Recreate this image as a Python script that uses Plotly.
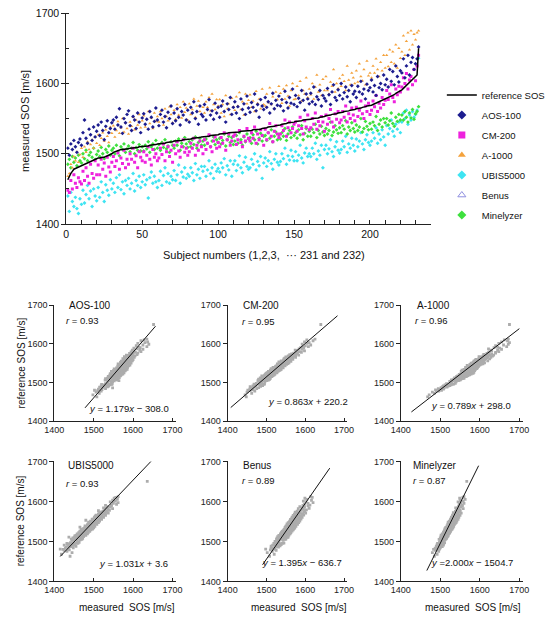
import plotly.graph_objects as go

SUBJECT = list(range(1, 233))

REFERENCE_SOS = [
    1463, 1468, 1472, 1475, 1478, 1479, 1480, 1481, 1482, 1483,
    1484, 1486, 1487, 1488, 1489, 1490, 1491, 1491, 1492, 1493,
    1494, 1494, 1495, 1495, 1495, 1496, 1496, 1497, 1498, 1500,
    1502, 1503, 1504, 1505, 1505, 1506, 1506, 1506, 1507, 1507,
    1507, 1508, 1508, 1508, 1509, 1509, 1509, 1510, 1510, 1510,
    1510, 1511, 1511, 1511, 1512, 1512, 1512, 1513, 1513, 1514,
    1514, 1514, 1515, 1515, 1515, 1516, 1516, 1516, 1517, 1517,
    1518, 1518, 1518, 1519, 1519, 1519, 1520, 1520, 1520, 1521,
    1521, 1521, 1522, 1522, 1522, 1523, 1523, 1523, 1524, 1524,
    1524, 1525, 1525, 1525, 1526, 1526, 1526, 1527, 1527, 1527,
    1528, 1528, 1528, 1529, 1529, 1529, 1530, 1530, 1530, 1530,
    1531, 1531, 1531, 1531, 1532, 1532, 1532, 1532, 1533, 1533,
    1533, 1533, 1534, 1534, 1534, 1535, 1535, 1535, 1536, 1536,
    1537, 1537, 1538, 1538, 1538, 1539, 1539, 1540, 1540, 1541,
    1541, 1542, 1542, 1543, 1543, 1544, 1544, 1545, 1545, 1545,
    1546, 1546, 1546, 1547, 1547, 1548, 1548, 1548, 1549, 1549,
    1549, 1550, 1550, 1551, 1551, 1551, 1552, 1552, 1553, 1553,
    1554, 1554, 1555, 1555, 1556, 1556, 1557, 1557, 1558, 1558,
    1559, 1559, 1560, 1560, 1561, 1561, 1562, 1562, 1563, 1563,
    1564, 1564, 1565, 1565, 1566, 1566, 1567, 1568, 1568, 1569,
    1569, 1570, 1571, 1571, 1572, 1573, 1574, 1575, 1576, 1577,
    1578, 1579, 1580, 1582, 1583, 1584, 1586, 1587, 1589, 1590,
    1591, 1593, 1595, 1597, 1599, 1601, 1603, 1605, 1608, 1610,
    1612, 1650,
]

AOS_100 = [
    1508, 1498, 1514, 1506, 1519, 1510, 1502, 1516, 1521, 1512,
    1530, 1548, 1522, 1515, 1535, 1527, 1519, 1538, 1524, 1532,
    1541, 1526, 1545, 1533, 1520, 1539, 1547, 1530, 1536, 1544,
    1548, 1535, 1552, 1541, 1564, 1538, 1529, 1550, 1544, 1556,
    1561, 1540, 1533, 1553, 1548, 1536, 1558, 1545, 1530, 1551,
    1557, 1542, 1549, 1535, 1560, 1552, 1538, 1546, 1565, 1548,
    1540, 1556, 1562, 1545, 1553, 1537, 1559, 1550, 1568, 1543,
    1558, 1547, 1564, 1552, 1541, 1560, 1555, 1570, 1548, 1562,
    1545, 1566, 1558, 1574, 1550, 1560, 1542, 1568, 1556, 1553,
    1570, 1548, 1563, 1577, 1555, 1561, 1549, 1572, 1558, 1566,
    1552, 1568, 1575, 1560, 1545, 1571, 1563, 1580, 1556, 1566,
    1574, 1558, 1567, 1550, 1578, 1563, 1571, 1556, 1582, 1565,
    1559, 1573, 1566, 1585, 1561, 1570, 1552, 1577, 1568, 1563,
    1580, 1566, 1574, 1558, 1571, 1586, 1564, 1576, 1569, 1582,
    1568, 1577, 1561, 1589, 1573, 1565, 1580, 1572, 1592, 1570,
    1583, 1567, 1579, 1573, 1590, 1576, 1562, 1585, 1578, 1571,
    1586, 1574, 1595, 1570, 1581, 1577, 1590, 1568, 1583, 1579,
    1575, 1593, 1584, 1570, 1588, 1598, 1580, 1576, 1591, 1583,
    1600, 1578, 1587, 1595, 1581, 1590, 1574, 1597, 1585, 1589,
    1580, 1596, 1588, 1603, 1585, 1592, 1578, 1599, 1590, 1594,
    1605, 1588, 1597, 1583, 1610, 1594, 1600, 1591, 1612, 1598,
    1606, 1595, 1620, 1603, 1617, 1598, 1625, 1610, 1602, 1618,
    1615, 1635, 1608, 1625, 1640, 1612, 1630, 1637, 1620, 1628,
    1635, 1652,
]

CM_200 = [
    1448, 1445, 1462, 1450, 1470, 1458, 1452, 1466, 1460, 1457,
    1475, 1462, 1480, 1468, 1458, 1485, 1472, 1465, 1490, 1470,
    1484, 1470, 1492, 1478, 1487, 1468, 1495, 1481, 1474, 1488,
    1496, 1482, 1490, 1501, 1478, 1494, 1486, 1505, 1480, 1492,
    1485, 1500, 1492, 1508, 1488, 1497, 1480, 1503, 1495, 1490,
    1503, 1488, 1498, 1510, 1492, 1484, 1506, 1495, 1500, 1490,
    1494, 1508, 1499, 1514, 1490, 1503, 1510, 1496, 1505, 1488,
    1512, 1500, 1517, 1504, 1495, 1510, 1520, 1502, 1508, 1498,
    1503, 1515, 1508, 1522, 1498, 1512, 1505, 1518, 1510, 1500,
    1520, 1506, 1515, 1527, 1510, 1503, 1518, 1524, 1508, 1516,
    1510, 1523, 1515, 1530, 1505, 1520, 1528, 1512, 1518, 1525,
    1527, 1513, 1520, 1533, 1516, 1510, 1525, 1518, 1536, 1522,
    1518, 1530, 1522, 1538, 1515, 1528, 1520, 1534, 1526, 1512,
    1535, 1520, 1530, 1543, 1525, 1517, 1532, 1540, 1528, 1523,
    1528, 1540, 1533, 1548, 1525, 1537, 1545, 1530, 1536, 1542,
    1545, 1532, 1540, 1552, 1536, 1528, 1547, 1538, 1555, 1534,
    1537, 1550, 1542, 1558, 1535, 1546, 1540, 1553, 1545, 1532,
    1555, 1542, 1550, 1563, 1545, 1538, 1557, 1549, 1560, 1544,
    1548, 1560, 1552, 1568, 1545, 1557, 1550, 1565, 1555, 1547,
    1566, 1553, 1562, 1575, 1557, 1550, 1568, 1560, 1572, 1556,
    1562, 1575, 1567, 1583, 1560, 1572, 1565, 1580, 1570, 1576,
    1590, 1577, 1585, 1598, 1580, 1574, 1592, 1584, 1596, 1588,
    1595, 1608, 1600, 1614, 1592, 1605, 1610, 1598, 1620, 1604,
    1625, 1640,
]

A_1000 = [
    1468, 1472, 1485, 1480, 1496, 1490, 1503, 1488, 1499, 1508,
    1495, 1510, 1502, 1517, 1506, 1513, 1520, 1508, 1524, 1515,
    1527, 1512, 1522, 1530, 1518, 1534, 1525, 1516, 1538, 1529,
    1540, 1524, 1533, 1546, 1529, 1537, 1550, 1531, 1544, 1536,
    1528, 1545, 1539, 1552, 1534, 1548, 1541, 1556, 1537, 1547,
    1554, 1538, 1549, 1560, 1543, 1551, 1536, 1558, 1546, 1553,
    1545, 1560, 1550, 1541, 1564, 1553, 1547, 1567, 1556, 1544,
    1562, 1549, 1570, 1555, 1566, 1551, 1574, 1559, 1565, 1548,
    1571, 1556, 1563, 1578, 1552, 1568, 1575, 1560, 1583, 1566,
    1558, 1574, 1566, 1580, 1561, 1585, 1570, 1563, 1577, 1568,
    1577, 1558, 1570, 1553, 1583, 1564, 1571, 1556, 1579, 1567,
    1562, 1581, 1568, 1587, 1563, 1574, 1555, 1585, 1571, 1576,
    1584, 1566, 1575, 1560, 1589, 1572, 1578, 1564, 1592, 1570,
    1568, 1585, 1573, 1594, 1570, 1581, 1564, 1588, 1577, 1596,
    1586, 1572, 1592, 1578, 1597, 1582, 1568, 1590, 1600, 1577,
    1578, 1596, 1583, 1603, 1575, 1590, 1585, 1608, 1580, 1592,
    1584, 1600, 1578, 1595, 1612, 1588, 1598, 1583, 1606, 1590,
    1610, 1590, 1585, 1602, 1596, 1620, 1588, 1600, 1593, 1607,
    1596, 1612, 1603, 1590, 1625, 1605, 1598, 1615, 1608, 1600,
    1618, 1602, 1628, 1610, 1604, 1620, 1598, 1632, 1611, 1615,
    1608, 1625, 1615, 1635, 1620, 1610, 1630, 1618, 1640, 1622,
    1640, 1624, 1648, 1630, 1645, 1628, 1655, 1622, 1650, 1636,
    1645, 1668, 1640, 1660, 1672, 1648, 1675, 1655, 1670, 1662,
    1672, 1675,
]

UBIS5000 = [
    1440, 1418, 1445, 1432, 1425, 1438, 1422, 1415, 1436, 1428,
    1448, 1430, 1442, 1455, 1436, 1447, 1425, 1450, 1440, 1433,
    1452, 1438, 1460, 1445, 1432, 1456, 1448, 1441, 1463, 1450,
    1458, 1445, 1466, 1452, 1470, 1449, 1460, 1443, 1462, 1455,
    1465, 1450, 1458, 1472, 1447, 1462, 1455, 1468, 1452, 1460,
    1470, 1456, 1463, 1437, 1466, 1474, 1458, 1468, 1460, 1452,
    1462, 1475, 1455, 1469, 1480, 1460, 1472, 1458, 1468, 1463,
    1476, 1462, 1470, 1484, 1458, 1474, 1467, 1480, 1465, 1471,
    1468, 1480, 1473, 1462, 1486, 1470, 1478, 1465, 1482, 1475,
    1482, 1468, 1477, 1490, 1472, 1480, 1465, 1485, 1475, 1479,
    1474, 1487, 1480, 1493, 1470, 1483, 1477, 1490, 1468, 1485,
    1490, 1476, 1484, 1497, 1480, 1473, 1488, 1495, 1482, 1478,
    1480, 1492, 1485, 1500, 1477, 1489, 1483, 1496, 1465, 1487,
    1494, 1482, 1490, 1503, 1486, 1478, 1492, 1500, 1488, 1484,
    1489, 1500, 1493, 1508, 1485, 1497, 1491, 1505, 1496, 1490,
    1503, 1490, 1498, 1512, 1494, 1487, 1501, 1508, 1496, 1500,
    1496, 1508, 1500, 1515, 1492, 1504, 1498, 1512, 1480, 1506,
    1512, 1500, 1507, 1520, 1503, 1496, 1510, 1517, 1505, 1501,
    1506, 1518, 1510, 1525, 1502, 1514, 1508, 1522, 1512, 1504,
    1521, 1510, 1518, 1530, 1514, 1506, 1520, 1527, 1516, 1512,
    1518, 1530, 1522, 1537, 1515, 1528, 1520, 1534, 1524, 1512,
    1540, 1528, 1536, 1548, 1532, 1525, 1542, 1535, 1545, 1530,
    1545, 1558, 1550, 1562, 1542, 1555, 1548, 1560, 1552, 1556,
    1562, 1636,
]

BENUS = [
    1508, 1520, 1502, 1515, 1525, 1510, 1518, 1498, 1522, 1512,
    1518, 1531, 1526, 1512, 1535, 1522, 1529, 1516, 1538, 1524,
    1536, 1524, 1541, 1529, 1519, 1533, 1545, 1527, 1531, 1522,
    1529, 1543, 1535, 1548, 1526, 1539, 1532, 1550, 1537, 1530,
    1545, 1533, 1541, 1527, 1550, 1536, 1543, 1531, 1554, 1539,
    1534, 1548, 1538, 1556, 1542, 1529, 1546, 1540, 1535, 1551,
    1550, 1537, 1546, 1532, 1555, 1544, 1539, 1558, 1541, 1548,
    1540, 1553, 1547, 1561, 1536, 1549, 1544, 1557, 1551, 1538,
    1555, 1543, 1551, 1563, 1546, 1539, 1558, 1549, 1544, 1560,
    1545, 1557, 1552, 1541, 1566, 1548, 1555, 1543, 1561, 1553,
    1560, 1548, 1556, 1569, 1551, 1545, 1563, 1554, 1547, 1566,
    1550, 1562, 1557, 1546, 1571, 1553, 1560, 1549, 1567, 1556,
    1564, 1552, 1560, 1573, 1556, 1548, 1566, 1558, 1551, 1570,
    1555, 1567, 1561, 1550, 1576, 1558, 1565, 1553, 1572, 1562,
    1570, 1558, 1566, 1580, 1561, 1553, 1573, 1564, 1557, 1577,
    1561, 1573, 1568, 1556, 1583, 1564, 1571, 1559, 1579, 1567,
    1576, 1563, 1572, 1586, 1567, 1560, 1580, 1570, 1562, 1584,
    1567, 1580, 1574, 1562, 1589, 1570, 1577, 1565, 1585, 1573,
    1583, 1570, 1578, 1592, 1573, 1566, 1586, 1576, 1569, 1590,
    1574, 1588, 1581, 1569, 1596, 1577, 1584, 1572, 1593, 1580,
    1592, 1578, 1587, 1601, 1582, 1574, 1596, 1586, 1579, 1599,
    1589, 1603, 1595, 1582, 1610, 1591, 1598, 1586, 1607, 1594,
    1612, 1598, 1607, 1620, 1602, 1595, 1616, 1604, 1599, 1618,
    1614, None,
]

MINELYZER = [
    1485, 1492, 1480, 1496, 1488, 1494, 1483, 1498, 1490, 1487,
    1500, 1493, 1505, 1490, 1498, 1502, 1495, 1508, 1492, 1499,
    1504, 1496, 1509, 1500, 1493, 1506, 1502, 1511, 1498, 1505,
    1508, 1500, 1512, 1503, 1497, 1510, 1506, 1514, 1502, 1507,
    1511, 1503, 1508, 1516, 1500, 1509, 1505, 1513, 1504, 1510,
    1504, 1512, 1507, 1517, 1502, 1510, 1514, 1506, 1519, 1508,
    1513, 1505, 1516, 1509, 1520, 1507, 1511, 1502, 1517, 1512,
    1508, 1518, 1512, 1521, 1505, 1515, 1510, 1523, 1514, 1509,
    1517, 1510, 1520, 1513, 1524, 1508, 1516, 1522, 1512, 1518,
    1512, 1521, 1515, 1526, 1510, 1518, 1524, 1513, 1520, 1516,
    1522, 1514, 1519, 1528, 1511, 1520, 1525, 1516, 1523, 1513,
    1518, 1526, 1515, 1530, 1520, 1512, 1524, 1517, 1528, 1521,
    1523, 1515, 1527, 1520, 1532, 1514, 1522, 1529, 1518, 1525,
    1526, 1519, 1530, 1522, 1534, 1517, 1525, 1531, 1520, 1527,
    1521, 1530, 1525, 1536, 1519, 1528, 1533, 1523, 1538, 1526,
    1530, 1522, 1534, 1527, 1540, 1520, 1529, 1536, 1525, 1532,
    1525, 1535, 1530, 1542, 1523, 1533, 1528, 1539, 1531, 1526,
    1536, 1528, 1533, 1545, 1526, 1531, 1540, 1534, 1529, 1537,
    1530, 1540, 1535, 1547, 1528, 1538, 1533, 1544, 1536, 1531,
    1541, 1533, 1538, 1550, 1531, 1536, 1546, 1539, 1534, 1543,
    1535, 1545, 1540, 1553, 1533, 1542, 1548, 1538, 1550, 1544,
    1550, 1541, 1547, 1558, 1543, 1539, 1552, 1546, 1556, 1548,
    1555, 1548, 1560, 1552, 1545, 1558, 1551, 1563, 1549, 1557,
    1560, 1567,
]

DEVICE_NAMES = ["AOS-100", "CM-200", "A-1000", "UBIS5000", "Benus", "Minelyzer"]
DEVICE_VALUES = [AOS_100, CM_200, A_1000, UBIS5000, BENUS, MINELYZER]
R_VALUES = ["0.93", "0.95", "0.96", "0.93", "0.89", "0.87"]
SLOPES = [1.179, 0.863, 0.789, 1.031, 1.395, 2.000]
INTERCEPTS = [-308.0, 220.2, 298.0, 3.6, -636.7, -1504.7]
EQUATIONS = [
    "<i>y</i> = 1.179<i>x</i> − 308.0",
    "<i>y</i> = 0.863<i>x</i> + 220.2",
    "<i>y</i> = 0.789<i>x</i> + 298.0",
    "<i>y</i> = 1.031<i>x</i> + 3.6",
    "<i>y</i> = 1.395<i>x</i> − 636.7",
    "<i>y</i> =2.000<i>x</i> − 1504.7",
]
LINE_X_START = [1478, 1408, 1427, 1415, 1490, 1466]
LINE_X_END = [1657, 1683, 1700, 1646, 1663, 1597]
SOS_TICKS = [1400, 1500, 1600, 1700]
SUBJECT_TICKS = [0, 50, 100, 150, 200]
# devices whose points are visible in the upper panel (Benus is legend-only there)
TOP_PANEL_DEVICES = ["UBIS5000", "Minelyzer", "CM-200", "A-1000", "AOS-100"]

for arr in DEVICE_VALUES + [REFERENCE_SOS]:
    assert len(arr) == 232, len(arr)

# ---------------- styling ----------------
W, H = 550, 627
FONT = "Liberation Sans, Arial, sans-serif"
AX = "#222222"

STYLE = {
    "AOS-100":   dict(symbol="diamond", color="#1c1c8f"),
    "CM-200":    dict(symbol="square", color="#ee22dd"),
    "A-1000":    dict(symbol="triangle-up", color="#f4a23c"),
    "UBIS5000":  dict(symbol="diamond", color="#3ee4f2"),
    "Benus":     dict(symbol="triangle-up-open", color="#8f8fe0"),
    "Minelyzer": dict(symbol="diamond", color="#3ee03e"),
}
LEGEND_ORDER = ["AOS-100", "CM-200", "A-1000", "UBIS5000", "Benus", "Minelyzer"]


def px_x(p):
    return p / W


def px_y(p):
    return 1 - p / H


fig = go.Figure()

# upper panel data (legend handled by proxy entries below)
for name in TOP_PANEL_DEVICES:
    vals = DEVICE_VALUES[DEVICE_NAMES.index(name)]
    st = STYLE[name]
    fig.add_trace(go.Scatter(
        x=SUBJECT, y=vals, mode="markers", name=name, showlegend=False,
        marker=dict(symbol=st["symbol"], color=st["color"], size=3,
                    line=dict(width=0)),
        xaxis="x", yaxis="y",
    ))

fig.add_trace(go.Scatter(
    x=SUBJECT, y=REFERENCE_SOS, mode="lines", name="reference SOS",
    legendrank=1, legendgroup="g0", line=dict(color="black", width=1.5),
    xaxis="x", yaxis="y",
))

# legend entries with a larger symbol than the tiny plotted dots
for k, name in enumerate(LEGEND_ORDER):
    st = STYLE[name]
    fig.add_trace(go.Scatter(
        x=[None], y=[None], mode="markers", name=name, legendrank=k + 2,
        legendgroup=f"g{k + 1}",
        marker=dict(symbol=st["symbol"], color=st["color"], size=7,
                    line=dict(width=1 if "open" in st["symbol"] else 0, color=st["color"])),
        xaxis="x", yaxis="y",
    ))

# bottom panels
COL_DOM = [(46.7, 174.5), (229.3, 355.3), (411.7, 540.0)]
ROW_DOM = [(305.0, 423.3), (464.3, 586.7)]

layout_axes = {}
annotations = []

for i, name in enumerate(DEVICE_NAMES):
    r, c = divmod(i, 3)
    n = i + 2
    xa, ya = f"x{n}", f"y{n}"
    vals = DEVICE_VALUES[i]
    fig.add_trace(go.Scatter(
        x=vals, y=REFERENCE_SOS, mode="markers", showlegend=False,
        marker=dict(symbol="square", size=2.8, color="#acacac"),
        xaxis=xa, yaxis=ya,
    ))
    xl = [LINE_X_START[i], LINE_X_END[i]]
    yl = [SLOPES[i] * v + INTERCEPTS[i] for v in xl]
    fig.add_trace(go.Scatter(
        x=xl, y=yl, mode="lines", showlegend=False,
        line=dict(color="#111111", width=1), xaxis=xa, yaxis=ya,
    ))
    x0, x1 = COL_DOM[c]
    y0, y1 = ROW_DOM[r]
    layout_axes[f"xaxis{n}"] = dict(
        domain=[px_x(x0), px_x(x1)], anchor=ya, range=[1400, 1708],
        tickvals=SOS_TICKS, ticks="inside", ticklen=3, tickcolor=AX,
        showline=True, linecolor=AX, linewidth=1, showgrid=False, zeroline=False,
        tickfont=dict(size=9, color="#222"),
    )
    layout_axes[f"yaxis{n}"] = dict(
        domain=[px_y(y1), px_y(y0)], anchor=xa, range=[1400, 1700],
        tickvals=SOS_TICKS, ticks="outside", ticklen=4, tickcolor=AX,
        showline=True, linecolor=AX, linewidth=1, showgrid=False, zeroline=False,
        tickfont=dict(size=9, color="#222"),
    )

TITLE_POS = [(0.104, 1.0), (0.11, 1.0), (0.12, 1.0), (0.096, 0.97), (0.11, 0.97), (0.088, 0.97)]
R_POS = [(0.08, 0.87), (0.10, 0.86), (0.10, 0.87), (0.08, 0.82), (0.10, 0.845), (0.088, 0.845)]
EQ_POS = [(0.965, 0.11), (1.02, 0.17), (0.92, 0.135), (0.95, 0.15), (0.975, 0.16), (0.94, 0.16)]

for i, name in enumerate(DEVICE_NAMES):
    n = i + 2
    xr, yr = f"x{n} domain", f"y{n} domain"
    annotations.append(dict(text=name, x=TITLE_POS[i][0], y=TITLE_POS[i][1], xref=xr, yref=yr,
                            xanchor="left", yanchor="middle", showarrow=False,
                            font=dict(size=10, color="#111")))
    annotations.append(dict(text=f"<i>r</i> = {R_VALUES[i]}", x=R_POS[i][0], y=R_POS[i][1],
                            xref=xr, yref=yr, xanchor="left", yanchor="middle", showarrow=False,
                            font=dict(size=9.5, color="#111")))
    annotations.append(dict(text=EQUATIONS[i], x=EQ_POS[i][0], y=EQ_POS[i][1],
                            xref=xr, yref=yr, xanchor="right", yanchor="middle", showarrow=False,
                            font=dict(size=9.5, color="#111")))

# axis titles
annotations += [
    dict(text="measured SOS [m/s]", x=px_x(16), y=px_y(117), xref="paper", yref="paper",
         xanchor="center", yanchor="middle",
         textangle=-90, showarrow=False, font=dict(size=11, color="#111")),
    dict(text="Subject numbers (1,2,3,  ··· 231 and 232)", x=px_x(268), y=px_y(254),
         xref="paper", yref="paper", xanchor="center", yanchor="middle",
         showarrow=False, font=dict(size=11, color="#111")),
    dict(text="reference SOS [m/s]", x=px_x(12), y=px_y(364), xref="paper", yref="paper",
         xanchor="center", yanchor="middle",
         textangle=-90, showarrow=False, font=dict(size=10, color="#111")),
    dict(text="reference SOS [m/s]", x=px_x(12), y=px_y(525), xref="paper", yref="paper",
         xanchor="center", yanchor="middle",
         textangle=-90, showarrow=False, font=dict(size=10, color="#111")),
]
for cx in (123, 304, 488):
    annotations.append(dict(text="measured\u00a0\u00a0SOS [m/s]", x=px_x(cx), y=px_y(613),
                            xref="paper", yref="paper", xanchor="center", yanchor="middle",
                            showarrow=False, font=dict(size=10, color="#111")))

fig.update_layout(
    width=W, height=H,
    margin=dict(l=0, r=0, t=0, b=0),
    paper_bgcolor="white", plot_bgcolor="white",
    font=dict(family=FONT, size=10, color="#111"),
    xaxis=dict(domain=[px_x(59.3), px_x(443.3)], anchor="y", range=[0, 240],
               tickvals=SUBJECT_TICKS, ticks="inside", ticklen=4, tickcolor=AX,
               minor=dict(dtick=10, ticks="inside", ticklen=4, tickcolor=AX),
               showline=True, linecolor=AX, linewidth=1, showgrid=False, zeroline=False,
               tickfont=dict(size=10.5)),
    yaxis=dict(domain=[px_y(222.3), px_y(7.3)], anchor="x", range=[1400, 1700],
               tickvals=SOS_TICKS, ticks="outside", ticklen=4, tickcolor=AX,
               minor=dict(dtick=50, ticks="inside", ticklen=3, tickcolor=AX),
               showline=True, linecolor=AX, linewidth=1, showgrid=False, zeroline=False,
               tickfont=dict(size=10.5)),
    legend=dict(x=px_x(455), y=px_y(76), xanchor="left", yanchor="top",
                font=dict(size=9.5), itemsizing="trace", tracegroupgap=1,
                traceorder="grouped", bgcolor="rgba(0,0,0,0)"),
    annotations=annotations,
    **layout_axes,
)

fig.write_html("out.html")
